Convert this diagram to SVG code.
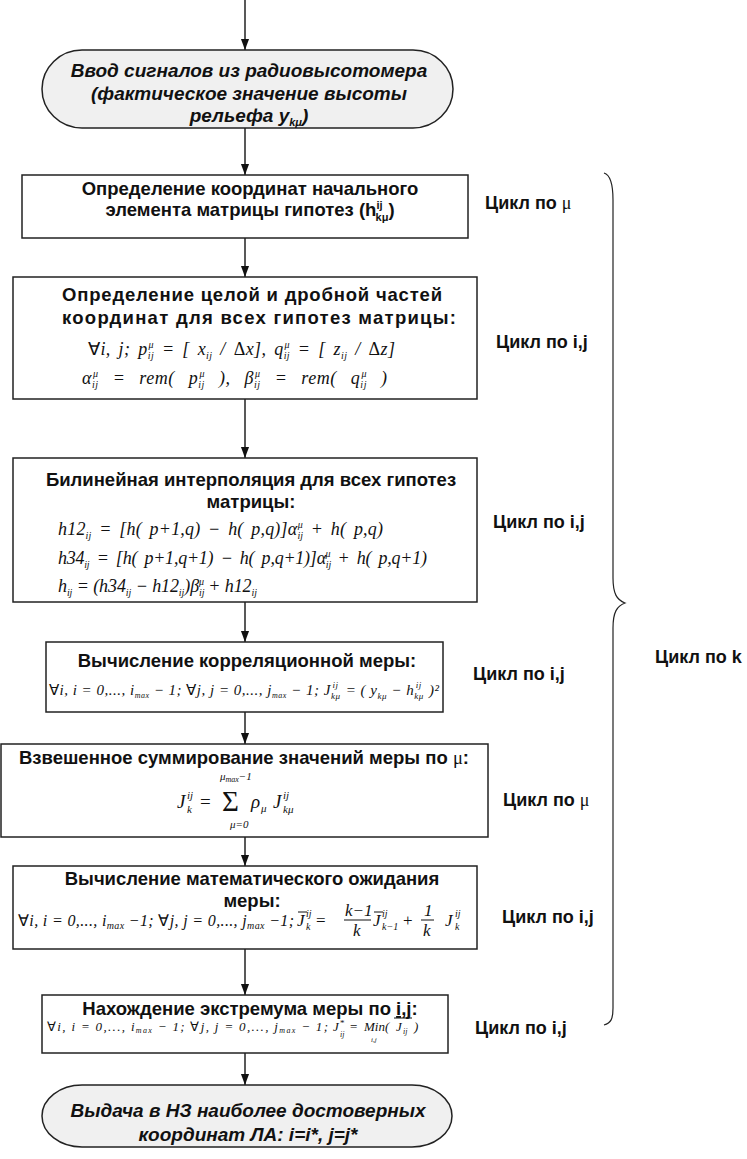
<svg xmlns="http://www.w3.org/2000/svg" width="747" height="1159" viewBox="0 0 747 1159">
<style>
.bx{fill:#fff;stroke:#222;stroke-width:1.5}
.term{fill:#f0f0f0;stroke:#222;stroke-width:1.5}
.t{font-family:"Liberation Sans",Arial,sans-serif;font-weight:bold;font-size:18.5px;fill:#111;text-anchor:middle}
.ti{font-family:"Liberation Sans",Arial,sans-serif;font-weight:bold;font-style:italic;font-size:19px;fill:#111;text-anchor:middle}
.lb{font-family:"Liberation Sans",Arial,sans-serif;font-weight:bold;font-size:18px;fill:#111}
.g{font-family:"Liberation Serif","Times New Roman",serif;font-weight:normal}
.m{font-family:"Liberation Serif","Times New Roman",serif;font-style:italic;fill:#111}
.up{font-style:normal}
.con{stroke:#222;stroke-width:1.5;fill:none;marker-end:url(#ah)}
</style>
<defs>
<marker id="ah" markerWidth="11" markerHeight="15" refX="15" refY="5.5" orient="auto" markerUnits="userSpaceOnUse" viewBox="0 0 15 11">
<path d="M0,0 L15,5.5 L0,11 Z" fill="#111"/>
</marker>
</defs>

<g id="connectors">
<line class="con" x1="245" y1="0" x2="245" y2="50"/>
<line class="con" x1="245" y1="128" x2="245" y2="175"/>
<line class="con" x1="245" y1="238" x2="245" y2="277"/>
<line class="con" x1="245" y1="399" x2="245" y2="458"/>
<line class="con" x1="245" y1="602" x2="245" y2="642"/>
<line class="con" x1="245" y1="712" x2="245" y2="744"/>
<line class="con" x1="245" y1="837" x2="245" y2="866"/>
<line class="con" x1="245" y1="949" x2="245" y2="995"/>
<line class="con" x1="245" y1="1053" x2="245" y2="1085"/>
</g>

<g id="start">
<rect class="term" x="42" y="50" width="411" height="78" rx="40" ry="39"/>
<text class="ti" x="249" y="77">Ввод сигналов из радиовысотомера</text>
<text class="ti" x="249" y="100">(фактическое значение высоты</text>
<text class="ti" x="249" y="122">рельефа y<tspan font-size="11" dy="4">kμ</tspan><tspan dy="-4">)</tspan></text>
</g>

<g id="box1">
<rect class="bx" x="22" y="175" width="446" height="63"/>
<text class="t" x="250" y="195">Определение координат начального</text>
<text class="t" x="250" y="216">элемента матрицы гипотез (h<tspan font-size="11" dy="-7">ij</tspan><tspan font-size="11" dx="-7" dy="12">kμ</tspan><tspan dy="-5">)</tspan></text>
</g>

<g id="box2">
<rect class="bx" x="13" y="277" width="464" height="122"/>
<text class="t" x="62" y="301" style="text-anchor:start" textLength="380" lengthAdjust="spacing">Определение целой и дробной частей</text>
<text class="t" x="62" y="324" style="text-anchor:start" textLength="394" lengthAdjust="spacing">координат для всех гипотез матрицы:</text>
<text class="m" x="88" y="355" font-size="18" word-spacing="3" textLength="307" lengthAdjust="spacing"><tspan class="up">∀</tspan>i, j; p<tspan font-size="10" dy="4">ij</tspan><tspan font-size="10" dx="-5.5" dy="-11">μ</tspan><tspan dy="7"> = [ x</tspan><tspan font-size="10" dy="4">ij</tspan><tspan dy="-4"> / </tspan><tspan class="up">Δ</tspan>x], q<tspan font-size="10" dy="4">ij</tspan><tspan font-size="10" dx="-5.5" dy="-11">μ</tspan><tspan dy="7"> = [ z</tspan><tspan font-size="10" dy="4">ij</tspan><tspan dy="-4"> / </tspan><tspan class="up">Δ</tspan>z]</text>
<text class="m" x="82" y="384" font-size="18" word-spacing="9" textLength="305" lengthAdjust="spacing">α<tspan font-size="10" dy="4">ij</tspan><tspan font-size="10" dx="-5.5" dy="-11">μ</tspan><tspan dy="7"> = rem( p</tspan><tspan font-size="10" dy="4">ij</tspan><tspan font-size="10" dx="-5.5" dy="-11">μ</tspan><tspan dy="7"> ), β</tspan><tspan font-size="10" dy="4">ij</tspan><tspan font-size="10" dx="-5.5" dy="-11">μ</tspan><tspan dy="7"> = rem( q</tspan><tspan font-size="10" dy="4">ij</tspan><tspan font-size="10" dx="-5.5" dy="-11">μ</tspan><tspan dy="7"> )</tspan></text>
</g>

<g id="box3">
<rect class="bx" x="13" y="458" width="464" height="144"/>
<text class="t" x="251" y="486">Билинейная интерполяция для всех гипотез</text>
<text class="t" x="251" y="508">матрицы:</text>
<text class="m" x="58" y="535" font-size="18" word-spacing="3" textLength="325" lengthAdjust="spacing">h12<tspan font-size="10" dy="4">ij</tspan><tspan dy="-4"> = [h( p+1,q) − h( p,q)]α</tspan><tspan font-size="10" dy="4">ij</tspan><tspan font-size="10" dx="-5.5" dy="-11">μ</tspan><tspan dy="7"> + h( p,q)</tspan></text>
<text class="m" x="58" y="564" font-size="18" word-spacing="3" textLength="369" lengthAdjust="spacing">h34<tspan font-size="10" dy="4">ij</tspan><tspan dy="-4"> = [h( p+1,q+1) − h( p,q+1)]α</tspan><tspan font-size="10" dy="4">ij</tspan><tspan font-size="10" dx="-5.5" dy="-11">μ</tspan><tspan dy="7"> + h( p,q+1)</tspan></text>
<text class="m" x="58" y="592" font-size="18" textLength="199" lengthAdjust="spacing">h<tspan font-size="10" dy="4">ij</tspan><tspan dy="-4"> = (h34</tspan><tspan font-size="10" dy="4">ij</tspan><tspan dy="-4"> − h12</tspan><tspan font-size="10" dy="4">ij</tspan><tspan dy="-4">)β</tspan><tspan font-size="10" dy="4">ij</tspan><tspan font-size="10" dx="-5.5" dy="-11">μ</tspan><tspan dy="7"> + h12</tspan><tspan font-size="10" dy="4">ij</tspan></text>
</g>

<g id="box4">
<rect class="bx" x="46" y="642" width="397" height="70"/>
<text class="t" x="247" y="667">Вычисление корреляционной меры:</text>
<text class="m" x="49" y="695" font-size="15" textLength="390" lengthAdjust="spacing"><tspan class="up">∀</tspan>i, i = 0,..., i<tspan font-size="8" dy="3">max</tspan><tspan dy="-3"> − 1; </tspan><tspan class="up">∀</tspan>j, j = 0,..., j<tspan font-size="8" dy="3">max</tspan><tspan dy="-3"> − 1; J</tspan><tspan font-size="9" dy="4">kμ</tspan><tspan font-size="9" dx="-8" dy="-11">ij</tspan><tspan dx="3" dy="7"> = ( y</tspan><tspan font-size="9" dy="4">kμ</tspan><tspan dy="-4"> − h</tspan><tspan font-size="9" dy="4">kμ</tspan><tspan font-size="9" dx="-8" dy="-11">ij</tspan><tspan dx="3" dy="7"> )²</tspan></text>
</g>

<g id="box5">
<rect class="bx" x="1" y="744" width="487" height="93"/>
<text class="t" x="244" y="764">Взвешенное суммирование значений меры по <tspan class="g">μ</tspan>:</text>
<text class="m" x="177" y="808" font-size="19">J</text>
<text class="m" x="187" y="799" font-size="11">ij</text>
<text class="m" x="187" y="813" font-size="11">k</text>
<text class="m up" x="200" y="808" font-size="19">=</text>
<text class="m up" x="222" y="811" font-size="29">Σ</text>
<text class="m" x="220" y="780" font-size="11">μ<tspan font-size="8" dy="2">max</tspan><tspan dy="-2">−1</tspan></text>
<text class="m" x="230" y="828" font-size="11">μ=0</text>
<text class="m" x="251" y="808" font-size="19">ρ</text>
<text class="m" x="261" y="812" font-size="11">μ</text>
<text class="m" x="273" y="808" font-size="19">J</text>
<text class="m" x="283" y="799" font-size="11">ij</text>
<text class="m" x="283" y="813" font-size="11">kμ</text>
</g>

<g id="box6">
<rect class="bx" x="13" y="866" width="464" height="83"/>
<text class="t" x="252" y="885">Вычисление математического ожидания</text>
<text class="t" x="252" y="907">меры:</text>
<text class="m" x="18" y="926" font-size="16" textLength="276" lengthAdjust="spacing"><tspan class="up">∀</tspan>i, i = 0,..., i<tspan font-size="10" dy="3">max</tspan><tspan dy="-3"> −1; </tspan><tspan class="up">∀</tspan>j, j = 0,..., j<tspan font-size="10" dy="3">max</tspan><tspan dy="-3"> −1;</tspan></text>
<text class="m" x="297" y="926" font-size="17">J</text>
<line x1="298" y1="912" x2="307" y2="912" stroke="#111" stroke-width="1"/>
<text class="m" x="306" y="917" font-size="10">ij</text>
<text class="m" x="306" y="930" font-size="10">k</text>
<text class="m up" x="316" y="926" font-size="17">=</text>
<text class="m" x="345" y="916" font-size="17">k−1</text>
<line x1="344" y1="920" x2="371" y2="920" stroke="#111" stroke-width="1"/>
<text class="m" x="353" y="936" font-size="17">k</text>
<text class="m" x="373" y="926" font-size="17">J</text>
<line x1="374" y1="912" x2="383" y2="912" stroke="#111" stroke-width="1"/>
<text class="m" x="382" y="917" font-size="10">ij</text>
<text class="m" x="382" y="930" font-size="10">k−1</text>
<text class="m up" x="403" y="926" font-size="17">+</text>
<text class="m" x="424" y="916" font-size="17">1</text>
<line x1="421" y1="920" x2="434" y2="920" stroke="#111" stroke-width="1"/>
<text class="m" x="423" y="936" font-size="17">k</text>
<text class="m" x="445" y="926" font-size="17">J</text>
<text class="m" x="455" y="917" font-size="10">ij</text>
<text class="m" x="455" y="930" font-size="10">k</text>
</g>

<g id="box7">
<rect class="bx" x="42" y="995" width="406" height="58"/>
<text class="t" x="250" y="1015">Нахождение экстремума меры по <tspan text-decoration="underline">i,j</tspan>:</text>
<text class="m" x="47" y="1031" font-size="13" textLength="281" lengthAdjust="spacing"><tspan class="up">∀</tspan>i, i = 0,..., i<tspan font-size="8" dy="2">max</tspan><tspan dy="-2"> − 1; </tspan><tspan class="up">∀</tspan>j, j = 0,..., j<tspan font-size="8" dy="2">max</tspan><tspan dy="-2"> − 1;</tspan></text>
<text class="m" x="333" y="1031" font-size="13">J</text>
<text class="m up" x="340" y="1026" font-size="9">*</text>
<text class="m" x="340" y="1037" font-size="8">ij</text>
<text class="m up" x="350" y="1031" font-size="13">=</text>
<text class="m" x="364" y="1031" font-size="13">Min(</text>
<text class="m" x="371" y="1042" font-size="7">i,j</text>
<text class="m" x="396" y="1031" font-size="13">J</text>
<text class="m" x="403" y="1034" font-size="8">ij</text>
<text class="m" x="414" y="1031" font-size="13">)</text>
<line x1="394" y1="1018" x2="412" y2="1018" stroke="#111" stroke-width="1"/>
</g>

<g id="end">
<rect class="term" x="42" y="1085" width="410" height="62" rx="40" ry="31"/>
<text class="ti" x="248" y="1117">Выдача в НЗ наиболее достоверных</text>
<text class="ti" x="248" y="1141">координат ЛА: i=i*, j=j*</text>
</g>

<g id="loops">
<path d="M604,173 C611,175 613,185 613,200 L613,578 C613,594 617,600 625,603 C617,606 613,612 613,628 L613,1008 C613,1019 611,1023 604,1025" fill="none" stroke="#222" stroke-width="1.2"/>
<text class="lb" x="485" y="209">Цикл по <tspan class="g">μ</tspan></text>
<text class="lb" x="496" y="348">Цикл по i,j</text>
<text class="lb" x="493" y="528">Цикл по i,j</text>
<text class="lb" x="655" y="663">Цикл по k</text>
<text class="lb" x="473" y="680">Цикл по i,j</text>
<text class="lb" x="503" y="806">Цикл по <tspan class="g">μ</tspan></text>
<text class="lb" x="502" y="923">Цикл по i,j</text>
<text class="lb" x="475" y="1034">Цикл по i,j</text>
</g>
</svg>
